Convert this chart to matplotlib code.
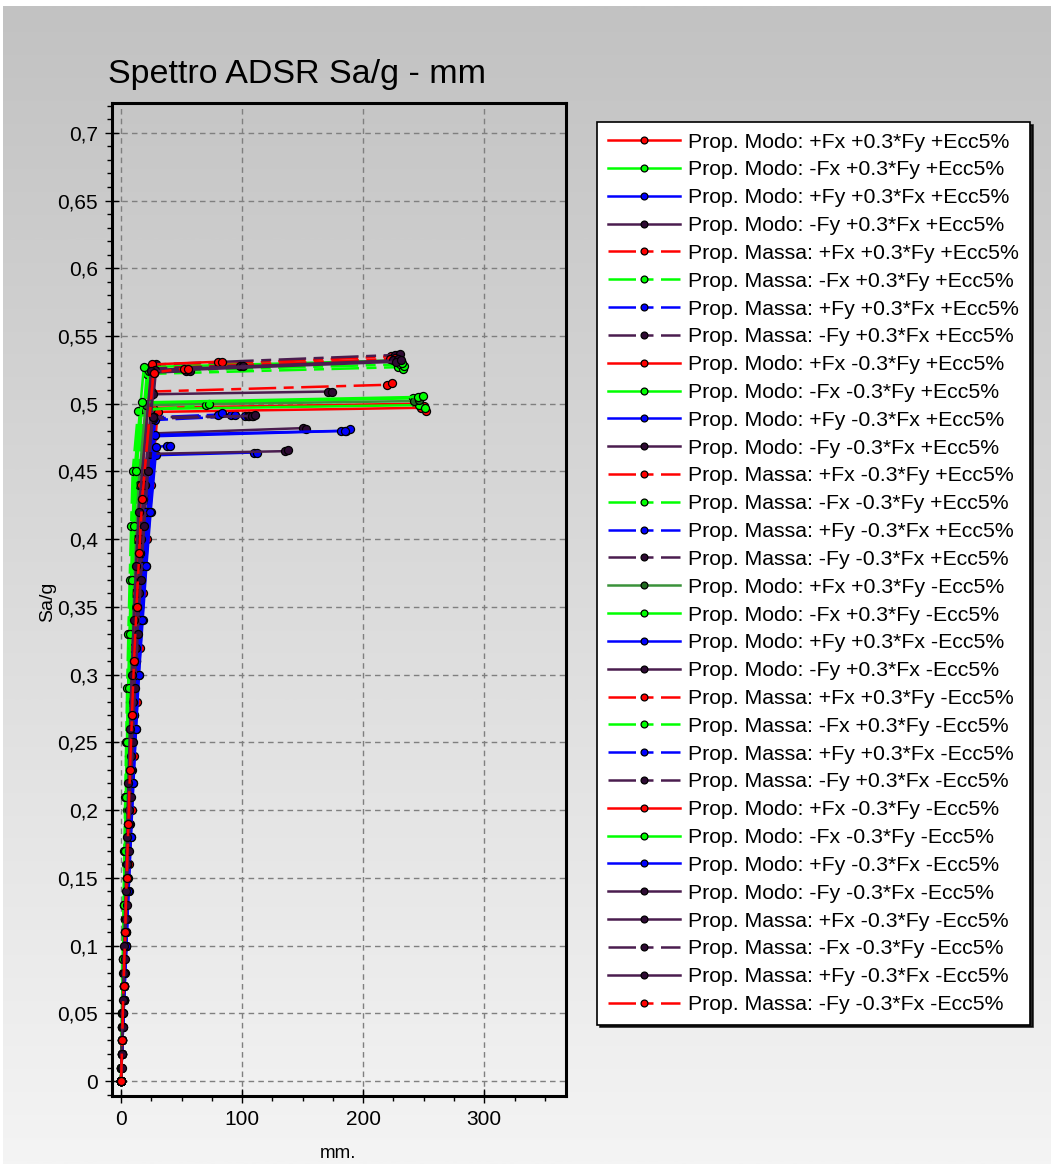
import numpy as np
import matplotlib
matplotlib.use("Agg")
import matplotlib.pyplot as plt
from matplotlib.ticker import MultipleLocator
from matplotlib.colors import LinearSegmentedColormap

plt.rcParams['font.family'] = ['Liberation Sans', 'DejaVu Sans']

LABELS = [
    "Prop. Modo: +Fx +0.3*Fy +Ecc5%", "Prop. Modo: -Fx +0.3*Fy +Ecc5%",
    "Prop. Modo: +Fy +0.3*Fx +Ecc5%", "Prop. Modo: -Fy +0.3*Fx +Ecc5%",
    "Prop. Massa: +Fx +0.3*Fy +Ecc5%", "Prop. Massa: -Fx +0.3*Fy +Ecc5%",
    "Prop. Massa: +Fy +0.3*Fx +Ecc5%", "Prop. Massa: -Fy +0.3*Fx +Ecc5%",
    "Prop. Modo: +Fx -0.3*Fy +Ecc5%", "Prop. Modo: -Fx -0.3*Fy +Ecc5%",
    "Prop. Modo: +Fy -0.3*Fx +Ecc5%", "Prop. Modo: -Fy -0.3*Fx +Ecc5%",
    "Prop. Massa: +Fx -0.3*Fy +Ecc5%", "Prop. Massa: -Fx -0.3*Fy +Ecc5%",
    "Prop. Massa: +Fy -0.3*Fx +Ecc5%", "Prop. Massa: -Fy -0.3*Fx +Ecc5%",
    "Prop. Modo: +Fx +0.3*Fy -Ecc5%", "Prop. Modo: -Fx +0.3*Fy -Ecc5%",
    "Prop. Modo: +Fy +0.3*Fx -Ecc5%", "Prop. Modo: -Fy +0.3*Fx -Ecc5%",
    "Prop. Massa: +Fx +0.3*Fy -Ecc5%", "Prop. Massa: -Fx +0.3*Fy -Ecc5%",
    "Prop. Massa: +Fy +0.3*Fx -Ecc5%", "Prop. Massa: -Fy +0.3*Fx -Ecc5%",
    "Prop. Modo: +Fx -0.3*Fy -Ecc5%", "Prop. Modo: -Fx -0.3*Fy -Ecc5%",
    "Prop. Modo: +Fy -0.3*Fx -Ecc5%", "Prop. Modo: -Fy -0.3*Fx -Ecc5%",
    "Prop. Massa: +Fx -0.3*Fy -Ecc5%", "Prop. Massa: -Fx -0.3*Fy -Ecc5%",
    "Prop. Massa: +Fy -0.3*Fx -Ecc5%", "Prop. Massa: -Fy -0.3*Fx -Ecc5%",
]

COLOR_KEYS = ['r', 'g', 'b', 'p', 'r', 'g', 'b', 'p',
              'r', 'g', 'b', 'p', 'r', 'g', 'b', 'p',
              'dg', 'g', 'b', 'p', 'r', 'g', 'b', 'p',
              'r', 'g', 'b', 'p', 'p', 'p', 'p', 'r']
STYLE_KEYS = ['s', 's', 's', 's', 'd', 'd', 'd', 'd',
              's', 's', 's', 's', 'd', 'd', 'd', 'd',
              's', 's', 's', 's', 'd', 'd', 'd', 'd',
              's', 's', 's', 's', 's', 'd', 's', 'd']

# Sa/g levels of the rising branch (four interleaved step sets)
Y_RISE_A = [0.0, 0.04, 0.08, 0.12, 0.16, 0.20, 0.24, 0.28, 0.32, 0.36, 0.40, 0.44]
Y_RISE_B = [0.0, 0.01, 0.05, 0.09, 0.13, 0.17, 0.21, 0.25, 0.29, 0.33, 0.37, 0.41, 0.45]
Y_RISE_C = [0.0, 0.02, 0.06, 0.10, 0.14, 0.18, 0.22, 0.26, 0.30, 0.34, 0.38, 0.42]
Y_RISE_D = [0.0, 0.03, 0.07, 0.11, 0.15, 0.19, 0.23, 0.27, 0.31, 0.35, 0.39, 0.43]
RISE_SET = ['A', 'B', 'C', 'D'] * 8

# displacement (mm) of the rising branch for each series
X_RISE = [
    [0, 1.3, 2.7, 4.2, 5.6, 7.2, 8.9, 10.7, 12.8, 15.1, 17.7, 20.6],
    [0, 0.3, 1.3, 2.5, 3.6, 4.8, 6.0, 7.4, 8.8, 10.6, 12.5, 14.6, 17.0],
    [0, 0.7, 2.2, 4.0, 5.5, 7.3, 9.1, 11.1, 13.2, 15.8, 18.7, 21.8],
    [0, 0.9, 2.2, 3.6, 4.9, 6.3, 7.9, 9.5, 11.3, 13.5, 15.9, 18.6],
    [0, 1.1, 2.35, 3.6, 4.85, 6.2, 7.65, 9.2, 11.0, 13.05, 15.3, 17.8],
    [0, 0.2, 1.1, 2.1, 3.0, 4.0, 5.0, 6.1, 7.3, 8.7, 10.3, 12.1, 14.1],
    [0, 0.7, 2.1, 3.7, 5.2, 6.8, 8.6, 10.4, 12.4, 14.9, 17.5, 20.5],
    [0, 1.0, 2.3, 3.7, 5.1, 6.6, 8.2, 9.9, 11.9, 14.1, 16.6, 19.4],
    [0, 1.5, 3.3, 5.0, 6.8, 8.7, 10.7, 12.9, 15.4, 18.3, 21.4, 24.9],
    [0, 0.2, 1.0, 1.8, 2.7, 3.5, 4.5, 5.4, 6.5, 7.8, 9.2, 10.8, 12.6],
    [0, 0.8, 2.5, 4.4, 6.2, 8.1, 10.2, 12.4, 14.8, 17.8, 20.9, 24.4],
    [0, 1.0, 2.4, 3.9, 5.4, 7.0, 8.7, 10.5, 12.5, 14.9, 17.5, 20.5],
    [0, 1.1, 2.4, 3.7, 5.0, 6.4, 7.9, 9.5, 11.3, 13.4, 15.8, 18.3],
    [0, 0.3, 1.2, 2.3, 3.3, 4.4, 5.5, 6.7, 8.1, 9.7, 11.4, 13.4, 15.5],
    [0, 0.7, 2.2, 3.9, 5.4, 7.1, 8.9, 10.8, 12.9, 15.5, 18.3, 21.3],
    [0, 1.0, 2.4, 3.9, 5.3, 6.9, 8.6, 10.4, 12.4, 14.8, 17.3, 20.3],
    [0, 0.9, 1.9, 2.9, 3.9, 5.0, 6.2, 7.5, 8.9, 10.6, 12.4, 14.4],
    [0, 0.2, 0.8, 1.6, 2.3, 3.1, 3.9, 4.8, 5.8, 6.9, 8.2, 9.5, 11.1],
    [0, 0.7, 2.3, 4.1, 5.7, 7.4, 9.3, 11.3, 13.5, 16.2, 19.1, 22.3],
    [0, 0.9, 2.1, 3.5, 4.8, 6.3, 7.8, 9.4, 11.2, 13.4, 15.7, 18.4],
    [0, 1.1, 2.3, 3.5, 4.7, 6.0, 7.4, 8.9, 10.7, 12.7, 14.8, 17.3],
    [0, 0.2, 0.7, 1.4, 2.0, 2.7, 3.4, 4.2, 5.0, 6.0, 7.1, 8.3, 9.6],
    [0, 0.7, 2.1, 3.7, 5.1, 6.7, 8.4, 10.2, 12.2, 14.6, 17.3, 20.1],
    [0, 0.8, 2.0, 3.3, 4.5, 5.8, 7.2, 8.7, 10.4, 12.4, 14.6, 17.0],
    [0, 1.0, 2.2, 3.3, 4.5, 5.8, 7.1, 8.6, 10.2, 12.1, 14.2, 16.6],
    [0, 0.2, 0.9, 1.8, 2.5, 3.4, 4.3, 5.2, 6.2, 7.5, 8.8, 10.3, 12.0],
    [0, 0.8, 2.5, 4.4, 6.1, 8.0, 10.0, 12.2, 14.5, 17.4, 20.5, 23.9],
    [0, 0.9, 2.1, 3.5, 4.7, 6.1, 7.7, 9.2, 11.0, 13.1, 15.4, 18.1],
    [0, 1.2, 2.6, 4.0, 5.3, 6.8, 8.4, 10.1, 12.1, 14.4, 16.8, 19.6],
    [0, 0.4, 1.7, 3.2, 4.7, 6.2, 7.9, 9.6, 11.5, 13.8, 16.3, 19.1, 22.2],
    [0, 0.5, 1.5, 2.6, 3.7, 4.8, 6.0, 7.3, 8.7, 10.4, 12.3, 14.4],
    [0, 0.9, 2.0, 3.4, 4.6, 6.0, 7.4, 9.0, 10.7, 12.8, 15.0, 17.5],
]

# yield point + plateau branch (mm, Sa/g)
X_PLAT = [
    [26.3, 244, 250], [22.0, 241, 247], [27.4, 186, 189], [23.4, 150, 153],
    [26.5, 223, 228], [21.3, 229, 233], [27.4, 91, 94], [29.2, 226, 230],
    [30.3, 248, 252], [17.2, 246, 251], [28.6, 110, 112], [23.8, 135, 138],
    [25.2, 220, 224], [22.9, 230, 234], [28.1, 102, 105], [26.2, 106, 109],
    [20.3, 242, 246], [18.8, 229, 232], [28.0, 182, 185], [26.1, 171, 174],
    [25.9, 222, 226], [14.1, 70, 73], [27.1, 80, 83], [26.6, 98, 101],
    [25.5, 80, 83], [17.1, 245, 249], [28.7, 38, 40], [27.4, 54, 57],
    [28.1, 225, 229], [26.2, 108, 111], [24.8, 227, 231], [26.8, 52, 55],
]
Y_PLAT = [
    [0.497, 0.500, 0.498], [0.500, 0.504, 0.505], [0.476, 0.480, 0.481], [0.478, 0.482, 0.481],
    [0.527, 0.535, 0.536], [0.522, 0.527, 0.526], [0.489, 0.492, 0.492], [0.529, 0.536, 0.537],
    [0.494, 0.497, 0.495], [0.496, 0.499, 0.497], [0.462, 0.464, 0.464], [0.463, 0.465, 0.466],
    [0.509, 0.514, 0.515], [0.524, 0.529, 0.528], [0.488, 0.491, 0.491], [0.489, 0.491, 0.491],
    [0.499, 0.502, 0.503], [0.527, 0.532, 0.530], [0.477, 0.480, 0.480], [0.507, 0.509, 0.509],
    [0.526, 0.533, 0.534], [0.495, 0.499, 0.500], [0.490, 0.492, 0.493], [0.526, 0.528, 0.528],
    [0.529, 0.531, 0.531], [0.501, 0.505, 0.506], [0.468, 0.469, 0.469], [0.523, 0.524, 0.524],
    [0.525, 0.532, 0.533], [0.490, 0.491, 0.492], [0.524, 0.531, 0.532], [0.523, 0.526, 0.526],
]

X_TICKS = [0, 100, 200, 300]
X_TICK_LABELS = ["0", "100", "200", "300"]
Y_TICKS = [0.0, 0.05, 0.1, 0.15, 0.2, 0.25, 0.3, 0.35, 0.4, 0.45, 0.5, 0.55, 0.6, 0.65, 0.7]
Y_TICK_LABELS = ["0", "0,05", "0,1", "0,15", "0,2", "0,25", "0,3", "0,35", "0,4",
                 "0,45", "0,5", "0,55", "0,6", "0,65", "0,7"]

TITLE = "Spettro ADSR Sa/g - mm"
XLABEL = "mm."
YLABEL = "Sa/g"

# styles
LINE_COLOR = {'r': '#ff0000', 'g': '#00ff00', 'b': '#0000ff', 'p': '#4a1d4f', 'dg': '#3a923a'}
FILL_COLOR = {'r': '#ff0000', 'g': '#00ff00', 'b': '#0000ff', 'p': '#2e0a33', 'dg': '#1f6a1f'}
LINE_STYLE = {'s': '-', 'd': (0, (11, 3, 4, 3))}
Y_RISE_SETS = {'A': Y_RISE_A, 'B': Y_RISE_B, 'C': Y_RISE_C, 'D': Y_RISE_D}

W, H = 1054, 1164
fig = plt.figure(figsize=(W / 100, H / 100), dpi=100, facecolor='white')

bg = fig.add_axes([3 / W, 0, 1 - 6 / W, 1 - 6 / H], zorder=-10)
cmap = LinearSegmentedColormap.from_list('bg', ['#c2c2c2', '#f4f4f4'])
grad = np.linspace(0, 1, 512).reshape(-1, 1)
bg.imshow(grad, aspect='auto', cmap=cmap, extent=[0, 1, 0, 1], origin='upper')
bg.axis('off')

ax = fig.add_axes([112 / W, 1 - 1096 / H, (566 - 112) / W, (1096 - 103) / H])
ax.patch.set_alpha(0)

for i in range(len(LABELS)):
    xs = X_RISE[i] + X_PLAT[i]
    ys = Y_RISE_SETS[RISE_SET[i]] + Y_PLAT[i]
    ck = COLOR_KEYS[i]
    ax.plot(xs, ys, color=LINE_COLOR[ck], ls=LINE_STYLE[STYLE_KEYS[i]], lw=1.8,
            marker='o', ms=5.8, mfc=FILL_COLOR[ck], mec='black', mew=0.9,
            label=LABELS[i])

ax.set_xlim(-7.5, 367.5)
ax.set_ylim(-0.011, 0.722)
ax.set_xticks(X_TICKS)
ax.set_xticklabels(X_TICK_LABELS)
ax.set_yticks(Y_TICKS)
ax.set_yticklabels(Y_TICK_LABELS)
ax.xaxis.set_minor_locator(MultipleLocator(25))
ax.yaxis.set_minor_locator(MultipleLocator(0.01))
ax.tick_params(which='major', direction='inout', length=10, width=1, labelsize=15, pad=5)
ax.tick_params(which='minor', direction='out', length=3.5, width=1)
ax.grid(True, which='major', color='#7f7f7f', ls=(0, (4, 3)), lw=1)
for s in ax.spines.values():
    s.set_linewidth(2.2)
    s.set_color('black')

fig.text(108 / W, 1 - 83 / H, TITLE, fontsize=24.5, ha='left', va='baseline')
fig.text(338 / W, 1 - 1158 / H, XLABEL, fontsize=13.5, ha='center', va='baseline')
fig.text(48 / W, 1 - 602 / H, YLABEL, fontsize=14, ha='center', va='center', rotation=90)

leg = ax.legend(loc='upper left', bbox_to_anchor=(597 / W, 1 - 122 / H),
                bbox_transform=fig.transFigure, frameon=True, fancybox=False,
                shadow={'color': 'black', 'alpha': 0.85}, edgecolor='black',
                facecolor='white', framealpha=1, fontsize=15.3, handlelength=3.4,
                handletextpad=0.4, labelspacing=0.415, borderpad=0.5, borderaxespad=0,
                markerscale=0.85)
leg.get_frame().set_linewidth(1.2)

fig.savefig('out.png', dpi=100, facecolor=fig.get_facecolor())
